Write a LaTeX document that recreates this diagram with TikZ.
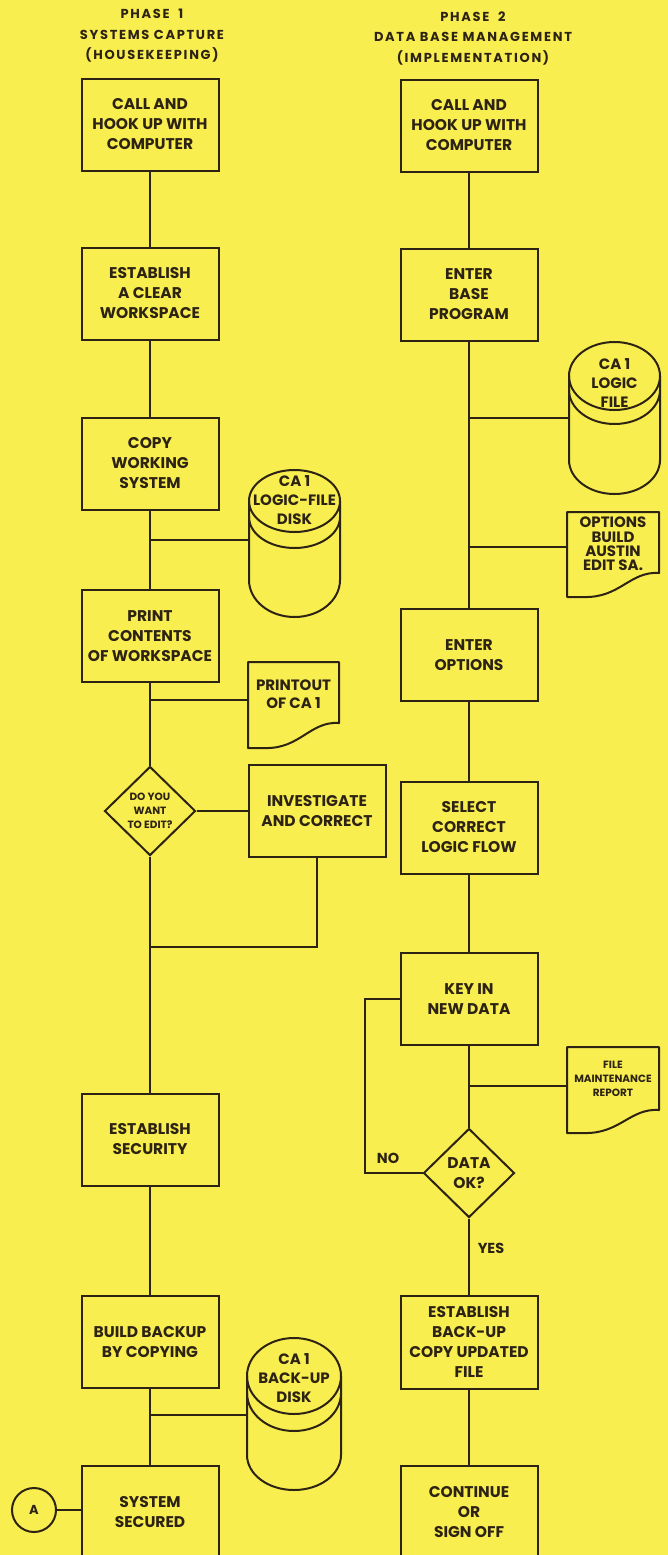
\documentclass[tikz,border=0pt]{standalone}
\usepackage{fontspec}
\setmainfont{Poppins}
\usetikzlibrary{shapes.geometric}
\definecolor{bg}{RGB}{249,238,79}
\definecolor{ink}{RGB}{45,35,20}
\newcommand{\bxf}{\fontsize{15.5}{20}\selectfont\bfseries}
\newcommand{\hdf}{\fontsize{13}{20.5}\selectfont\bfseries\addfontfeatures{LetterSpace=13}}
\newcommand{\smf}{\fontsize{10.5}{14}\selectfont\bfseries}
\newcommand{\cyf}{\fontsize{15}{19}\selectfont\bfseries}
\newcommand{\opf}{\fontsize{15}{14.3}\selectfont\bfseries}
% cylinder: cx top rx ry off bot ryb
\newcommand{\cylshape}[7]{%
 \pgfmathsetmacro{\cyYc}{#2+#4}%
 \pgfmathsetmacro{\cyYa}{\cyYc+#5}%
 \pgfmathsetmacro{\cyYab}{\cyYa+#4}%
 \pgfmathsetmacro{\cyYb}{#6-#7}%
 \pgfmathsetmacro{\cyXl}{#1-#3}%
 \pgfmathsetmacro{\cyXr}{#1+#3}%
 \pgfmathsetmacro{\cyKx}{0.5523*#3}%
 \pgfmathsetmacro{\cyKy}{0.5523*#4}%
 \pgfmathsetmacro{\cyKyb}{0.5523*#7}%
 \draw[line] (#1,\cyYc) ellipse [x radius=#3, y radius=#4];
 \draw[line] (\cyXl,\cyYa) .. controls (\cyXl,{\cyYa+\cyKy}) and ({#1-\cyKx},\cyYab) .. (#1,\cyYab) .. controls ({#1+\cyKx},\cyYab) and (\cyXr,{\cyYa+\cyKy}) .. (\cyXr,\cyYa);
 \draw[line] (\cyXl,\cyYc) -- (\cyXl,\cyYb) .. controls (\cyXl,{\cyYb+\cyKyb}) and ({#1-\cyKx},#6) .. (#1,#6) .. controls ({#1+\cyKx},#6) and (\cyXr,{\cyYb+\cyKyb}) .. (\cyXr,\cyYb) -- (\cyXr,\cyYc);
}
% document: xl xr top yr yl
\newcommand{\docshape}[5]{%
 \draw[line] (#1,#3) -- (#2,#3) -- (#2,#4) .. controls ({#2-29},{#4-2}) and ({#2-39},{#5+1}) .. ({#1+17},#5) -- (#1,#5) -- cycle;
}
\begin{document}
\begin{tikzpicture}[x=1pt,y=-1pt,
  line/.style={draw=ink, line width=2pt, line join=round},
  box/.style={draw=ink, line width=2pt, rectangle, minimum width=137pt, minimum height=92pt, align=center, inner sep=0pt, font=\bxf, text=ink},
  dia/.style={draw=ink, line width=2pt, diamond, minimum width=91pt, minimum height=89pt, align=center, inner sep=0pt, text=ink},
  lab/.style={align=center, text=ink, inner sep=0pt},
  conn/.style={draw=ink, line width=2pt}]
\useasboundingbox (0,0) rectangle (668,1555);
\fill[bg] (0,0) rectangle (668,1555);

% headers
\node[lab, font=\hdf] (h1) at (152,36) {PHASE\ \ 1\\SYSTEMS CAPTURE\\(HOUSEKEEPING)};
\node[lab, font=\hdf] (h2) at (473,38.5) {PHASE\ \ 2\\DATA BASE MANAGEMENT\\(IMPLEMENTATION)};

% left column
\node[box] (L1) at (150,124.5) {CALL AND\\HOOK UP WITH\\COMPUTER};
\node[box] (L2) at (150,293.5) {ESTABLISH\\A CLEAR\\WORKSPACE};
\node[box] (L3) at (150,463.5) {COPY\\WORKING\\SYSTEM};
\node[box] (L4) at (150,636) {PRINT\\CONTENTS\\OF WORKSPACE};
\node[dia, font=\smf] (Ld) at (150,811) {DO YOU\\WANT\\TO EDIT?};
\node[box] (LI) at (317,811) {INVESTIGATE\\AND CORRECT};
\node[box] (L5) at (150,1139.5) {ESTABLISH\\SECURITY};
\node[box] (L6) at (150,1342) {BUILD BACKUP\\BY COPYING};
\node[box] (L7) at (150,1512) {SYSTEM\\SECURED};
\node[draw=ink, line width=2pt, circle, minimum size=44pt, inner sep=0pt, text=ink, font=\fontsize{13}{14}\selectfont\bfseries] (A) at (34,1510) {A};

% right column
\node[box] (R1) at (469,125.5) {CALL AND\\HOOK UP WITH\\COMPUTER};
\node[box] (R2) at (469,294.5) {ENTER\\BASE\\PROGRAM};
\node[box] (R3) at (469,655) {ENTER\\OPTIONS};
\node[box] (R4) at (469,827.5) {SELECT\\CORRECT\\LOGIC FLOW};
\node[box] (R5) at (469,999) {KEY IN\\NEW DATA};
\node[dia, font=\fontsize{15.5}{20}\selectfont\bfseries] (Rd) at (469,1173) {DATA\\OK?};
\node[box, minimum height=93pt] (R6) at (469,1342) {ESTABLISH\\BACK-UP\\COPY UPDATED\\FILE};
\node[box] (R7) at (469,1512) {CONTINUE\\OR\\SIGN OFF};

% cylinders
\cylshape{294.5}{470}{45.5}{31}{16}{617}{37}
\node[lab, font=\cyf] (C1) at (294.5,500) {CA 1\\LOGIC-FILE\\DISK};
\coordinate (c1) at (249,540);
\cylshape{614.5}{342}{45.5}{34}{14}{494}{34}
\node[lab, font=\cyf] (C2) at (614.5,383) {CA 1\\LOGIC\\FILE};
\coordinate (c2) at (569,418);
\cylshape{294}{1338}{47}{38}{17}{1490}{35}
\node[lab, font=\cyf] (C3) at (294,1378) {CA 1\\BACK-UP\\DISK};
\coordinate (c3) at (247,1415);

% documents
\docshape{248}{339}{662}{723}{748}
\node[lab, font=\fontsize{15}{18}\selectfont\bfseries] (D1) at (293.5,694) {PRINTOUT\\OF CA 1};
\coordinate (d1) at (248,700);
\docshape{567}{659}{512}{573}{597}
\node[lab, font=\opf] (D2) at (613,544) {OPTIONS\\BUILD\\AUSTIN\\EDIT SA.};
\coordinate (d2) at (567,547);
\docshape{567}{659}{1047}{1110}{1133}
\node[lab, font=\smf] (D3) at (613,1079) {FILE\\MAINTENANCE\\REPORT};
\coordinate (d3) at (567,1086);

% left connectors
\draw[conn] (L1) -- (L2);
\draw[conn] (L2) -- (L3);
\draw[conn] (L3.south) -- (L4.north);
\draw[conn] (L4.south) -- (Ld.north);
\draw[conn] (Ld.south) -- (L5.north);
\draw[conn] (L5) -- (L6);
\draw[conn] (L6.south) -- (L7.north);
\draw[conn] (L3.south |- c1) -- (c1);
\draw[conn] (L4.south |- d1) -- (d1);
\draw[conn] (Ld.east) -- (Ld.east -| LI.west);
\coordinate (loopL) at (150,947);
\draw[conn] (LI.south) |- (loopL);
\draw[conn] (L6.south |- c3) -- (c3);
\draw[conn] (A.east) -- (A.east -| L7.west);

% right connectors
\draw[conn] (R1.south) -- (R2.north);
\draw[conn] (R2.south) -- (R3.north);
\draw[conn] (R3) -- (R4);
\draw[conn] (R4) -- (R5);
\draw[conn] (R5.south) -- (Rd.north);
\draw[conn] (Rd.south) -- (R6.north);
\draw[conn] (R6) -- (R7);
\draw[conn] (R2.south |- c2) -- (c2);
\draw[conn] (R2.south |- d2) -- (d2);
\draw[conn] (R5.south |- d3) -- (d3);
\coordinate (noC) at (365,999);
\draw[conn] (Rd.west) -| (noC) -- (R5.west);
\node[lab, font=\fontsize{14.5}{16}\selectfont\bfseries] (no) at (388,1158) {NO};
\node[lab, font=\fontsize{14.5}{16}\selectfont\bfseries] (yes) at (491,1248) {YES};
\end{tikzpicture}
\end{document}
